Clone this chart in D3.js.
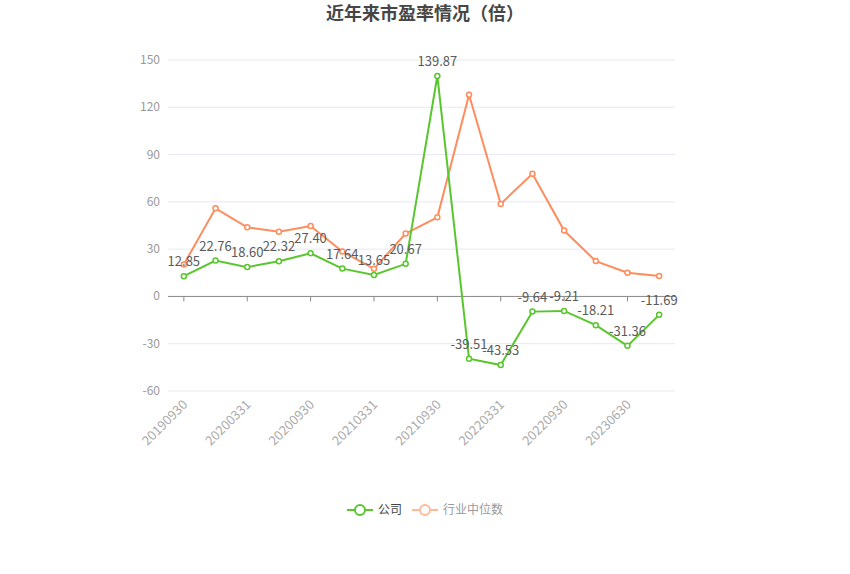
<!DOCTYPE html>
<html><head><meta charset="utf-8">
<script src="https://cdn.jsdelivr.net/npm/d3@7"></script>
<style>body{margin:0;background:#fff;}svg{display:block;font-family:"Microsoft YaHei","Noto Sans CJK SC",sans-serif;}</style>
</head><body><svg id="c" width="850" height="574"></svg>
<script>
const categories = ["20190930","20191231","20200331","20200630","20200930","20201231","20210331","20210630","20210930","20211231","20220331","20220630","20220930","20230331","20230630","20230930"];
const tickLabels = ["20190930","20200331","20200930","20210331","20210930","20220331","20220930","20230630"];
const company = [12.85,22.76,18.60,22.32,27.40,17.64,13.65,20.67,139.87,-39.51,-43.53,-9.64,-9.21,-18.21,-31.36,-11.69];
const industry = [20.3,55.9,43.9,41.1,44.7,28.5,17.5,39.9,50.2,128.0,58.7,77.8,41.8,22.4,15.0,12.9];
const yTicks = [-60,-30,0,30,60,90,120,150];
const seriesNames = ["公司","行业中位数"];

(function(){
const svg = d3.select("#c");
const pL = 168, pR = 675, pT = 60, pB = 391;
const x = d3.scaleBand().domain(categories).range([pL,pR]);
const cx = d => x(d) + x.bandwidth()/2;
const y = d3.scaleLinear().domain([-60,150]).range([pB,pT]);

svg.append("text").attr("x",425).attr("y",20).attr("text-anchor","middle")
  .attr("font-size",18).attr("font-weight","bold").attr("fill","#464646").text("近年来市盈率情况（倍）");

svg.append("g").selectAll("line").data(yTicks.filter(v=>v!==0)).join("line")
  .attr("x1",pL).attr("x2",pR).attr("y1",d=>y(d)).attr("y2",d=>y(d))
  .attr("stroke","#e6e9f4").attr("stroke-width",1);
svg.append("g").selectAll("text").data(yTicks).join("text")
  .attr("x",160).attr("y",d=>y(d)+4).attr("text-anchor","end")
  .attr("font-size",12).attr("fill","#999").text(d=>d);
svg.append("line").attr("x1",pL).attr("x2",pR).attr("y1",y(0)).attr("y2",y(0)).attr("stroke","#888").attr("stroke-width",1);
svg.append("g").selectAll("line").data(tickLabels).join("line")
  .attr("x1",d=>cx(d)).attr("x2",d=>cx(d)).attr("y1",y(0)).attr("y2",y(0)+5).attr("stroke","#888");
svg.append("g").selectAll("text").data(tickLabels).join("text")
  .attr("transform",d=>`translate(${cx(d)-2},${pB+8}) rotate(-45)`)
  .attr("text-anchor","end").attr("dy","0.7em").attr("font-size",13).attr("fill","#aaa").text(d=>d);

const line = d3.line().x((d,i)=>cx(categories[i])).y(d=>y(d));
function drawSeries(vals,color){
  svg.append("path").datum(vals).attr("d",line).attr("fill","none").attr("stroke",color).attr("stroke-width",2);
  svg.append("g").selectAll("circle").data(vals).join("circle")
    .attr("cx",(d,i)=>cx(categories[i])).attr("cy",d=>y(d)).attr("r",2.5)
    .attr("fill","#fff").attr("stroke",color).attr("stroke-width",1.5);
}
drawSeries(industry,"#ff8c5c");
drawSeries(company,"#5ac62e");
svg.append("g").selectAll("text").data(company).join("text")
  .attr("x",(d,i)=>cx(categories[i])).attr("y",d=>y(d)-10).attr("text-anchor","middle")
  .attr("font-size",13).attr("fill","#5a5a5a").text(d=>d.toFixed(2));

const lg = svg.append("g");
const items = [{n:seriesNames[0],c:"#5ac62e",t:"#444",x:347},{n:seriesNames[1],c:"#ffb99b",t:"#999",x:412}];
items.forEach(it=>{
  lg.append("line").attr("x1",it.x).attr("x2",it.x+26).attr("y1",510).attr("y2",510).attr("stroke",it.c).attr("stroke-width",2);
  lg.append("circle").attr("cx",it.x+13).attr("cy",510).attr("r",5).attr("fill","#fff").attr("stroke",it.c).attr("stroke-width",2);
  lg.append("text").attr("x",it.x+31).attr("y",514).attr("font-size",12).attr("fill",it.t).text(it.n);
});
})();
</script></body></html>
